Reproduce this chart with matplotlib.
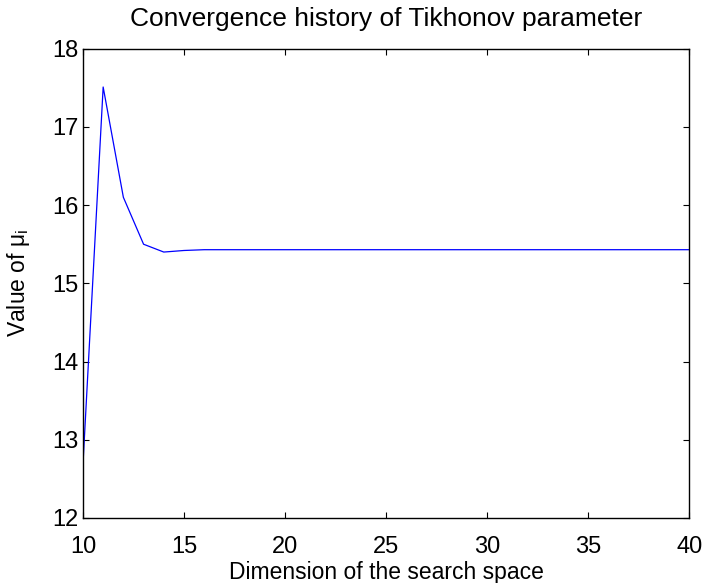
import matplotlib
matplotlib.use("Agg")
import matplotlib.pyplot as plt

# dimension of search space vs Tikhonov parameter value
dims = list(range(10, 41))
mu = [12.68, 17.51, 16.10, 15.50, 15.40, 15.42] + [15.43] * 25

plt.rcParams['font.family'] = ['Liberation Sans', 'DejaVu Sans']

fig = plt.figure(figsize=(7.09, 5.83), dpi=100)
ax = fig.add_axes([0.117, 0.1115, 0.855, 0.805])
ax.plot(dims, mu, color='#0000ff', linewidth=0.9)

ax.set_xlim(10, 40)
ax.set_ylim(12, 18)
ax.set_xticks([10, 15, 20, 25, 30, 35, 40])
ax.set_yticks([12, 13, 14, 15, 16, 17, 18])
ax.tick_params(direction='in', top=True, right=True, length=4.3, labelsize=17)
ax.tick_params(axis='x', pad=13)
ax.tick_params(axis='y', pad=3)
for s in ax.spines.values():
    s.set_linewidth(1.0)

ax.set_title('Convergence history of Tikhonov parameter', fontsize=19, pad=16)
ax.set_xlabel('Dimension of the search space', fontsize=16.5)
ax.xaxis.set_label_coords(0.5, -0.0917)
ax.set_ylabel('Value of μ$_\\mathregular{i}$', fontsize=16.5)
ax.yaxis.set_label_coords(-0.0842, 0.5)

fig.savefig('out.png', dpi=100)
